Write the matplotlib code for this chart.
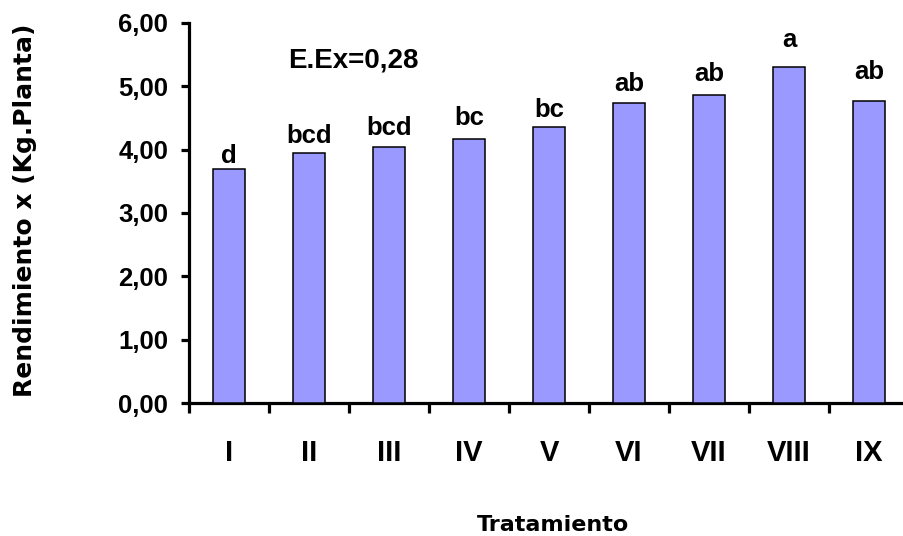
import matplotlib
matplotlib.use("Agg")
import matplotlib.pyplot as plt

# yield per treatment with the Tukey grouping letters
tratamientos = ["I", "II", "III", "IV", "V", "VI", "VII", "VIII", "IX"]
rendimiento = [3.69, 3.95, 4.04, 4.17, 4.36, 4.74, 4.86, 5.30, 4.77]
letras = ["d", "bcd", "bcd", "bc", "bc", "ab", "ab", "a", "ab"]
letra_y = [3.79, 4.10, 4.23, 4.39, 4.51, 4.92, 5.08, 5.62, 5.11]
y_ticks = [0, 1, 2, 3, 4, 5, 6]
y_ticklabels = ["0,00", "1,00", "2,00", "3,00", "4,00", "5,00", "6,00"]

BOLD = dict(family="Liberation Sans", fontweight="bold")

fig = plt.figure(figsize=(9.04, 5.36), dpi=100)
ax = fig.add_axes([189 / 904, 1 - 403.3 / 536, 720 / 904, 380.6 / 536])

x = list(range(len(tratamientos)))
ax.bar(x, rendimiento, width=0.4, color="#9999ff", edgecolor="black",
       linewidth=1.1, zorder=3)

for xi, lab, ly in zip(x, letras, letra_y):
    ax.text(xi, ly, lab, ha="center", va="baseline", fontsize=18.5, **BOLD)

ax.text(1.56, 5.29, "E.Ex=0,28", ha="center", va="baseline",
        fontsize=20, **BOLD)

ax.set_xlim(-0.5, 8.5)
ax.set_ylim(0, 6)

for s in ("top", "right"):
    ax.spines[s].set_visible(False)
for s in ("left", "bottom"):
    ax.spines[s].set_linewidth(2.3)

# category boundaries carry the tick marks, centres carry the labels
ax.set_xticks([i - 0.5 for i in range(len(tratamientos) + 1)])
ax.set_xticklabels([])
ax.set_xticks(x, minor=True)
ax.set_xticklabels(tratamientos, minor=True, fontsize=21, **BOLD)
ax.tick_params(axis="x", which="major", length=7, width=2.3, direction="out")
ax.tick_params(axis="x", which="minor", length=0, pad=26)

ax.set_yticks(y_ticks)
ax.set_yticklabels(y_ticklabels, fontsize=18.5, **BOLD)
ax.tick_params(axis="y", length=6, width=2.3, pad=9)

fig.text(553 / 904, 1 - 525 / 536, "Tratamiento", ha="center", va="center",
         fontsize=16, family="DejaVu Sans", fontweight="bold")
fig.text(25 / 904, 1 - 210 / 536, "Rendimiento x (Kg.Planta)", ha="center",
         va="center", rotation=90, fontsize=18, family="DejaVu Sans",
         fontweight="bold")

fig.savefig("out.png", dpi=100)
